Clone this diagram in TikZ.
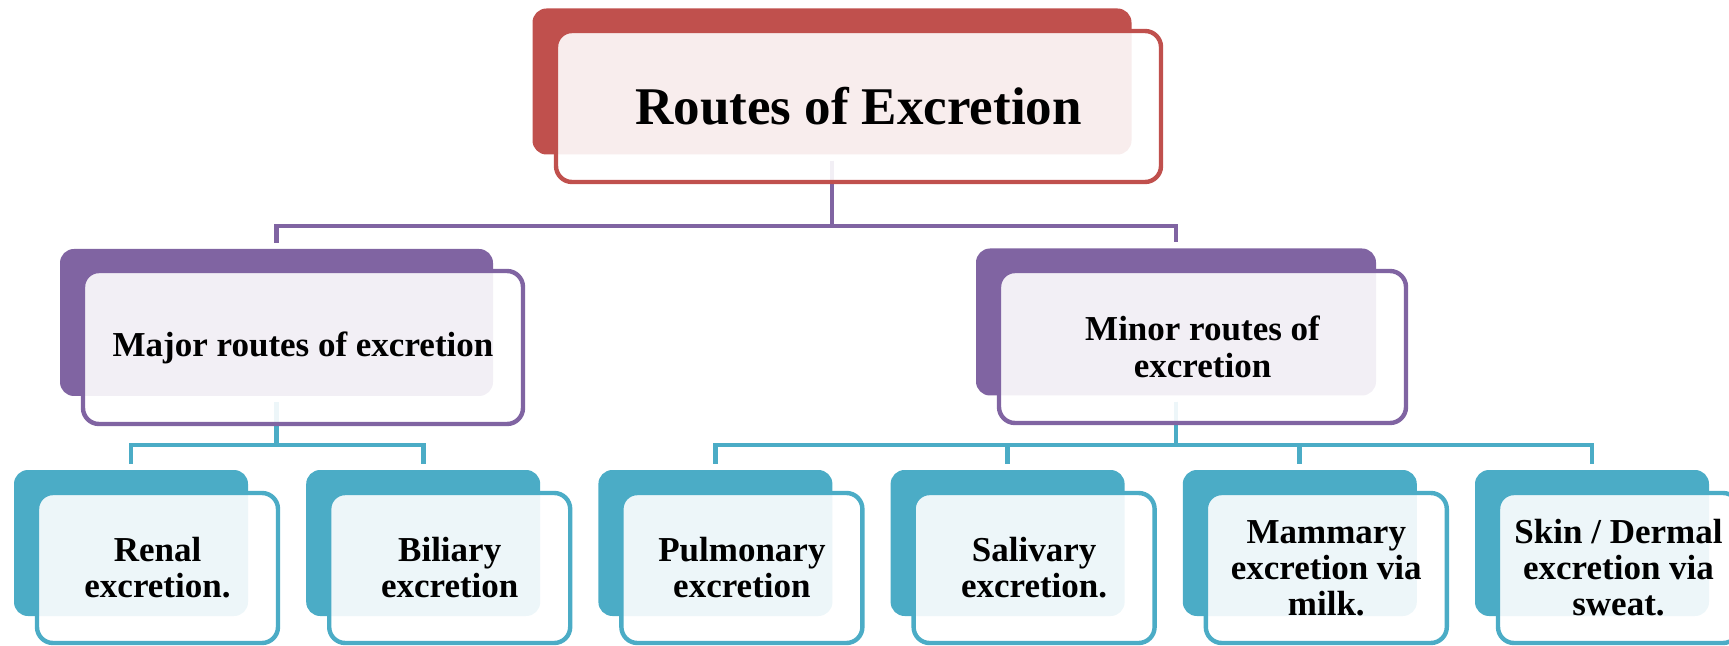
\documentclass[tikz,border=0pt]{standalone}
\usepackage{fontspec}
\setmainfont{Liberation Serif}
\usetikzlibrary{calc,backgrounds}

\definecolor{rootred}{RGB}{192,80,77}
\definecolor{routepurple}{RGB}{128,100,162}
\definecolor{leafteal}{RGB}{75,172,198}

\tikzset{
  frontbox/.style={draw=#1, line width=2.2pt, rounded corners=8pt, fill=white,
    fill opacity=0.9, text opacity=1, align=center, inner sep=0pt},
  backbox/.style={fill=#1, rounded corners=7pt, inner sep=0pt},
  linkline/.style={draw=#1, line width=2.4pt, shorten <=3pt, shorten >=3pt},
  midtext/.style={font=\bfseries\fontsize{17.5}{18.5}\selectfont},
  leaftext/.style={font=\bfseries\fontsize{17.5}{18}\selectfont,
    minimum width=120.5pt, minimum height=75pt},
  leafback/.style={backbox=leafteal, minimum width=117pt, minimum height=73pt}
}

\begin{document}
\begin{tikzpicture}[x=0.5pt,y=-0.5pt]
  \useasboundingbox (0,0) rectangle (1729,646);

  % front boxes
  \node[frontbox=rootred, minimum width=302.5pt, minimum height=75.5pt,
    font=\bfseries\fontsize{26.5}{30}\selectfont] (root) at (858.5,106.5) {Routes of Excretion};
  \node[frontbox=routepurple, midtext, minimum width=220pt, minimum height=76.5pt] (major) at (303,347.5) {Major routes of excretion};
  \node[frontbox=routepurple, midtext, minimum width=203.5pt, minimum height=76pt] (minor) at (1202.5,347) {Minor routes of\\excretion};

  \node[frontbox=leafteal, leaftext] (renal) at (157.5,568) {Renal\\excretion.};
  \node[frontbox=leafteal, leaftext] (biliary) at (449.7,568) {Biliary\\excretion};
  \node[frontbox=leafteal, leaftext] (pulmonary) at (741.9,568) {Pulmonary\\excretion};
  \node[frontbox=leafteal, leaftext] (salivary) at (1034.1,568) {Salivary\\excretion.};
  \node[frontbox=leafteal, leaftext] (mammary) at (1326.3,568) {Mammary\\excretion via\\milk.};
  \node[frontbox=leafteal, leaftext] (skin) at (1618.5,568) {Skin / Dermal\\excretion via\\sweat.};

  \begin{scope}[on background layer]
    % back boxes
    \node[backbox=rootred, minimum width=299.5pt, minimum height=73pt] (rootb) at ($(root.center)+(-26.5,-25)$) {};
    \node[backbox=routepurple, minimum width=216.5pt, minimum height=73.5pt] (majorb) at ($(major.center)+(-26.5,-25)$) {};
    \node[backbox=routepurple, minimum width=200pt, minimum height=73.5pt] (minorb) at ($(minor.center)+(-26.5,-25)$) {};
    \foreach \leaf in {renal,biliary,pulmonary,salivary,mammary,skin}
      \node[leafback] (\leaf b) at ($(\leaf.center)+(-26.5,-25)$) {};

    % connectors
    \coordinate (bartop) at (0,226);
    \coordinate (barlow) at (0,445);
    \draw[linkline=routepurple] (rootb.south) -- (rootb.south |- bartop) -| (majorb.north);
    \draw[linkline=routepurple] (rootb.south) -- (rootb.south |- bartop) -| (minorb.north);
    \foreach \leaf in {renal,biliary}
      \draw[linkline=leafteal] (majorb.south) -- (majorb.south |- barlow) -| (\leaf b.north);
    \foreach \leaf in {pulmonary,salivary,mammary,skin}
      \draw[linkline=leafteal] (minorb.south) -- (minorb.south |- barlow) -| (\leaf b.north);
  \end{scope}
\end{tikzpicture}
\end{document}
